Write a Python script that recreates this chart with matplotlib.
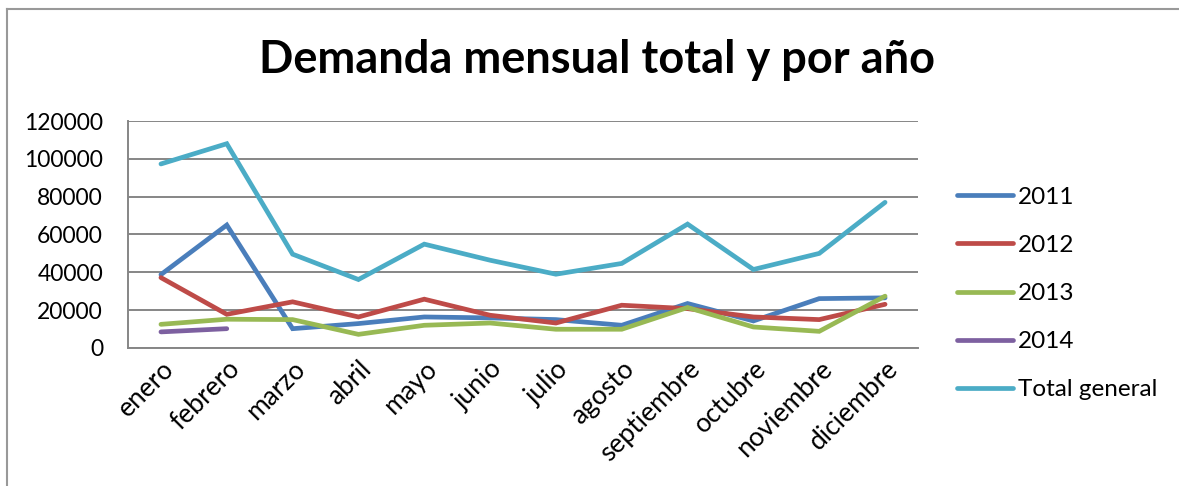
import matplotlib
matplotlib.use('Agg')
import matplotlib.pyplot as plt
from matplotlib.lines import Line2D

plt.rcParams['font.family'] = ['Lato', 'DejaVu Sans']

meses = ['enero', 'febrero', 'marzo', 'abril', 'mayo', 'junio', 'julio',
         'agosto', 'septiembre', 'octubre', 'noviembre', 'diciembre']

y2011 = [38800, 65000, 10200, 12900, 16400, 15900, 15000, 12000, 23500, 14300, 26100, 26500]
y2012 = [37200, 17800, 24400, 16400, 25800, 17300, 13200, 22600, 20800, 16400, 15000, 23100]
y2013 = [12500, 15200, 15000, 7200, 12000, 13200, 9900, 9900, 21400, 11100, 8800, 27400]
y2014 = [8500, 10200]
total = [97300, 108000, 49600, 36200, 54900, 46400, 39000, 44700, 65500, 41500, 50000, 77000]

series = [('2011', y2011, '#4A7EBB'),
          ('2012', y2012, '#BE4B48'),
          ('2013', y2013, '#98B954'),
          ('2014', y2014, '#7D60A0'),
          ('Total general', total, '#4BACC6')]

fig = plt.figure(figsize=(11.79, 4.86), dpi=100)
ax = fig.add_axes([0.1086, 0.284, 0.67, 0.467])

for name, vals, col in series:
    ax.plot(range(len(vals)), vals, color=col, lw=3.4, label=name,
            solid_capstyle='round', solid_joinstyle='miter')

ax.set_xlim(-0.5, 11.5)
ax.set_ylim(0, 120000)
ax.set_yticks(range(0, 120001, 20000))
ax.yaxis.grid(True, color='#868686', lw=1.4)
ax.set_axisbelow(True)
ax.tick_params(length=0)
ax.tick_params(axis='y', labelsize=16.5, pad=18)
ax.set_xticks(range(12))
ax.set_xticklabels(meses, rotation=45, ha='right', va='top', rotation_mode='anchor')
ax.tick_params(axis='x', labelsize=19, pad=6)
for s in ['top', 'right']:
    ax.spines[s].set_visible(False)
for s in ['left', 'bottom']:
    ax.spines[s].set_color('#868686')
    ax.spines[s].set_linewidth(1.4)

fig.text(0.506, 0.876, 'Demanda mensual total y por año', ha='center', va='center',
         fontsize=32.5, fontweight='bold')

leg = ax.legend(loc='center left', bbox_to_anchor=(1.022, 0.24), frameon=False,
                fontsize=17.5, handlelength=2.3, handletextpad=0.2, labelspacing=1.12)

fig.add_artist(Line2D([0.006, 0.006], [0.0, 0.982], color='#999999', lw=1.5))
fig.add_artist(Line2D([0.006, 1.0], [0.982, 0.982], color='#999999', lw=1.5))

fig.savefig('out.png', dpi=100)
